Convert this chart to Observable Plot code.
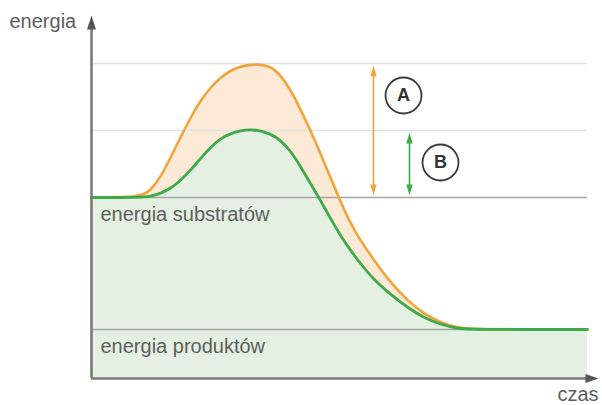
<!DOCTYPE html>
<html><head><meta charset="utf-8">
<script src="https://cdn.jsdelivr.net/npm/d3@7"></script>
<script src="https://cdn.jsdelivr.net/npm/@observablehq/plot@0.6"></script>
<style>body{margin:0;background:#fff} svg{display:block}</style>
</head><body><div id="chart"></div>
<script>
// reaction progress (time) and energy
const time        = [0, 49, 59, 69, 79, 89, 99, 109, 119, 129, 139, 149, 159, 167, 174, 182, 189, 199, 209, 219, 229, 239, 249, 259, 269, 282, 299, 316, 332, 349, 366, 379, 496];
const uncatalysed = [181, 181, 188, 201, 221, 241, 261, 278, 291, 301, 308, 312, 314, 314, 313, 310, 303, 289, 269, 248, 225, 201, 177, 155, 138, 119, 96, 78, 65, 56, 51, 49, 49];
const catalysed   = [181, 181, 182, 185, 190, 198, 208, 220, 231, 240, 245, 248, 249, 248, 246, 243, 238, 228, 212, 195, 178, 160, 143, 128, 115, 99, 84, 71, 61, 54, 50, 49, 49];

const gridEnergies  = [315, 248];
const levelEnergies = [181, 49];
const levelLabels   = ["energia substratów", "energia produktów"];

const arrowNames   = ["A", "B"];
const arrowTimes   = [282, 318];
const arrowTops    = [313, 246];
const arrowBottoms = [183, 183];
const arrowColors  = ["#f2a43c", "#3eaa48"];
const badgeTimes   = [312, 349];
const badgeEnergies= [283, 216];

const axisLabels = ["energia", "czas"];

const curve = time.map((t, i) => ({t, o: uncatalysed[i], g: catalysed[i]}));
const levels = levelEnergies.map((e, i) => ({e, label: levelLabels[i]}));
const arrows = arrowNames.map((n, i) => ({n, t: arrowTimes[i], top: arrowTops[i], bottom: arrowBottoms[i], c: arrowColors[i], bt: badgeTimes[i], be: badgeEnergies[i]}));

const headUp    = {draw(ctx){ ctx.moveTo(0,0); ctx.lineTo(-3.2,11); ctx.lineTo(3.2,11); ctx.closePath(); }};
const headDown  = {draw(ctx){ ctx.moveTo(0,0); ctx.lineTo(-3.2,-11); ctx.lineTo(3.2,-11); ctx.closePath(); }};
const axisUp    = {draw(ctx){ ctx.moveTo(0,0); ctx.lineTo(-4.5,14); ctx.lineTo(4.5,14); ctx.closePath(); }};
const axisRight = {draw(ctx){ ctx.moveTo(0,0); ctx.lineTo(-13,-4.5); ctx.lineTo(-13,4.5); ctx.closePath(); }};

const font = "Liberation Sans, Arial, sans-serif";
const textColor = "#5e5e5e";
const smooth = "basis";

const chart = Plot.plot({
  width: 602, height: 405,
  marginLeft: 91, marginRight: 15, marginTop: 15, marginBottom: 27,
  x: {domain: [0, 496], axis: null},
  y: {domain: [0, 363], axis: null},
  style: {background: "#fff", fontFamily: font},
  marks: [
    Plot.areaY(curve, {x: "t", y: "g", fill: "#e4f0e2", curve: smooth}),
    Plot.areaY(curve, {x: "t", y1: "g", y2: "o", fill: "#fcead6", curve: smooth}),
    Plot.ruleY(gridEnergies, {x1: 0, x2: 496, stroke: "#e2e2e2", strokeWidth: 1.5}),
    Plot.ruleY(levels, {y: "e", x1: 0, x2: 496, stroke: "#a5a5a5", strokeWidth: 1.5}),
    Plot.text(levels, {x: 9, y: d => d.e - 17, text: "label", textAnchor: "start", fontSize: 20, fill: textColor, style: "letter-spacing:0.35px"}),
    Plot.line(curve, {x: "t", y: "o", stroke: "#f2a43c", strokeWidth: 2.6, curve: smooth}),
    Plot.line(curve, {x: "t", y: "g", stroke: "#3eaa48", strokeWidth: 2.8, curve: smooth}),
    // double arrows
    Plot.ruleX(arrows, {x: "t", y1: d => d.bottom + 5, y2: d => d.top - 5, stroke: "c", strokeWidth: 1.6}),
    Plot.dot(arrows, {x: "t", y: "top", symbol: headUp, fill: "c", stroke: "none"}),
    Plot.dot(arrows, {x: "t", y: "bottom", symbol: headDown, fill: "c", stroke: "none"}),
    // badges
    Plot.dot(arrows, {x: "bt", y: "be", r: 18, fill: "#fff", stroke: "#3a3a3a", strokeWidth: 1.8}),
    Plot.text(arrows, {x: "bt", y: "be", text: "n", fontSize: 18, fontWeight: "bold", fill: "#333"}),
    // axes
    Plot.ruleX([0], {y1: 0, y2: 352, stroke: "#7a7a7a", strokeWidth: 2.6}),
    Plot.ruleY([0], {x1: 0, x2: 496, stroke: "#7a7a7a", strokeWidth: 2.6}),
    Plot.dot([0], {x: 0, y: 363, symbol: axisUp, fill: "#555", stroke: "none"}),
    Plot.dot([0], {x: 507, y: 0, symbol: axisRight, fill: "#555", stroke: "none"}),
    Plot.text([axisLabels[0]], {x: -82, y: 357, text: d => d, textAnchor: "start", fontSize: 20, fill: textColor, style: "letter-spacing:0.35px"}),
    Plot.text([axisLabels[1]], {x: 507, y: -16, text: d => d, textAnchor: "end", fontSize: 20, fill: textColor, style: "letter-spacing:0.35px"})
  ]
});
document.getElementById("chart").append(chart);
</script>
</body></html>
